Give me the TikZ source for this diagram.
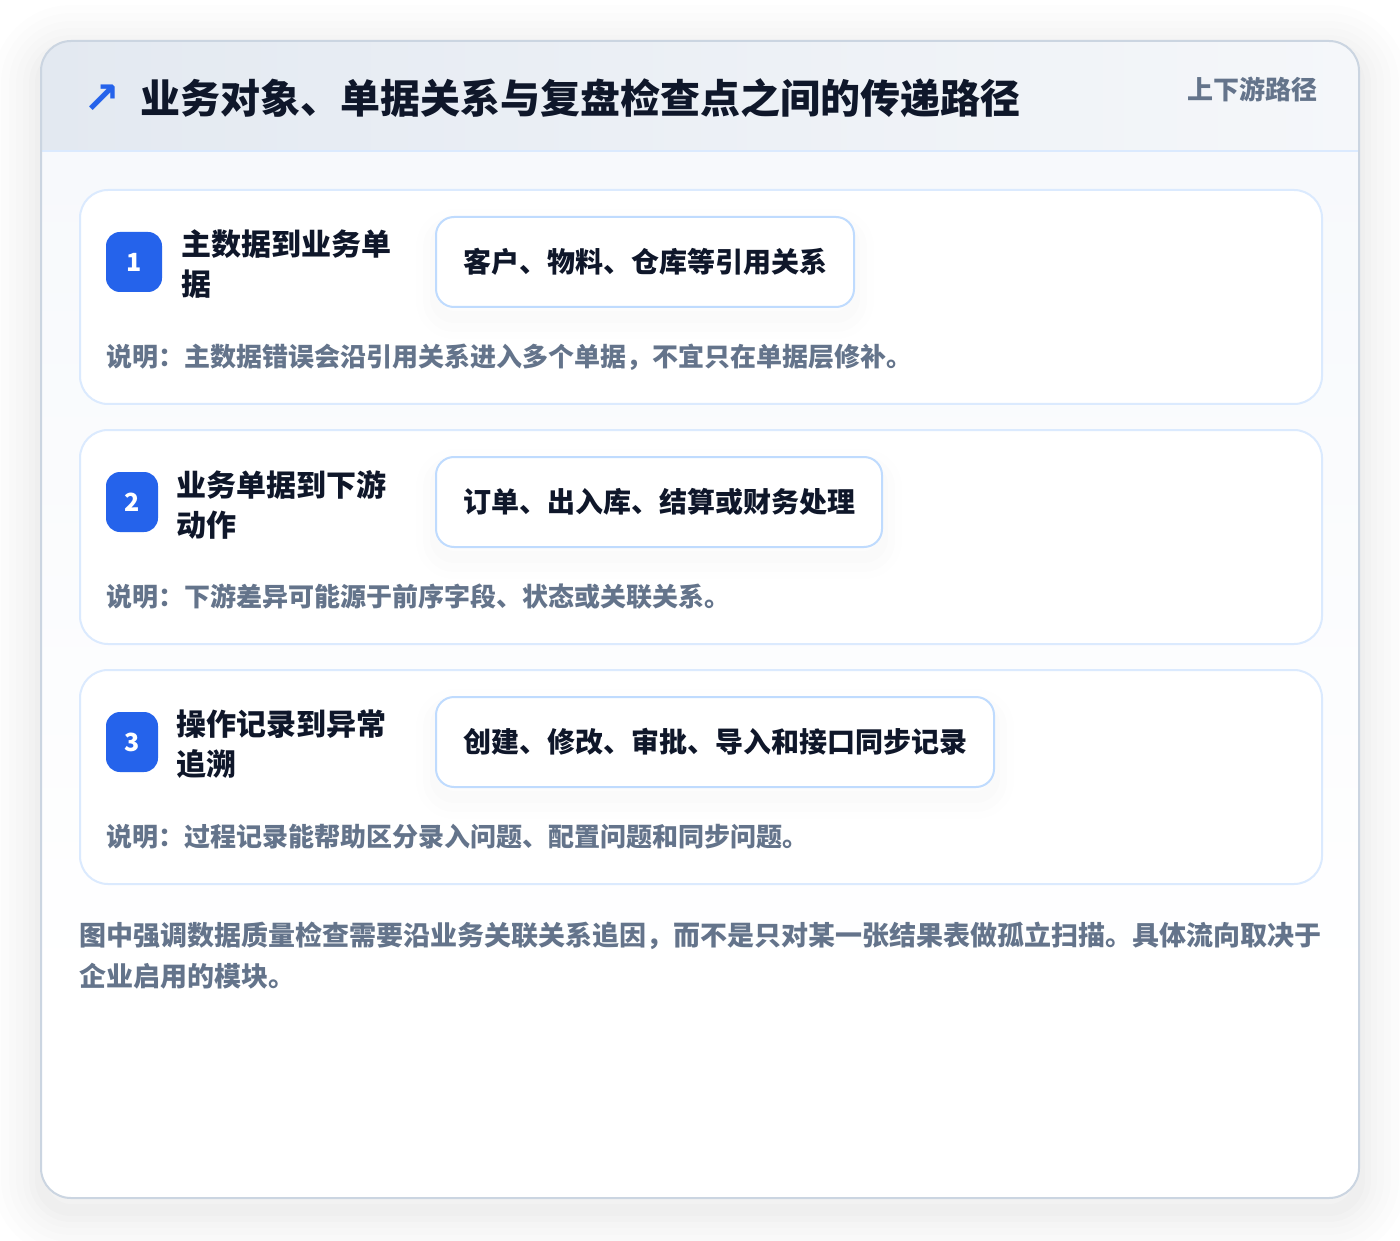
\documentclass[tikz,border=0pt]{standalone}
\usepackage{fontspec}
\setmainfont{Noto Sans CJK SC}
\newfontfamily\symfont{DejaVu Sans}
\definecolor{titleink}{HTML}{0F172A}
\definecolor{muted}{HTML}{64748B}
\definecolor{badgeblue}{HTML}{2563EB}
\definecolor{pillline}{HTML}{BFDBFE}
\definecolor{cardline}{HTML}{DBEAFE}
\definecolor{outerline}{HTML}{CBD5E1}
\definecolor{headL}{HTML}{E3E9F1}
\definecolor{headR}{HTML}{F5F7FA}
\definecolor{bodyT}{HTML}{F7F9FC}
\begin{document}
\begin{tikzpicture}[x=0.5pt,y=-0.5pt,
  cardbox/.style={draw=cardline, line width=1pt, fill=white, rounded corners=14pt,
    minimum width=621pt, minimum height=107pt, anchor=north west, inner sep=0pt},
  badge/.style={fill=badgeblue, rounded corners=7pt, text=white,
    font=\bfseries\fontsize{12.5}{13}\selectfont, minimum height=30pt, inner sep=0pt},
  ctitle/.style={anchor=west, align=left, inner sep=0pt, text=titleink,
    font=\bfseries\fontsize{15}{20}\selectfont},
  pill/.style={anchor=west, draw=pillline, line width=1pt, fill=white, rounded corners=9pt,
    minimum height=45pt, inner xsep=13.5pt, inner ysep=0pt, text=titleink,
    font=\bfseries\fontsize{14}{16}\selectfont,
    preaction={draw=black, draw opacity=0.005, line width=20pt, line join=round, transform canvas={yshift=-6pt}},
    preaction={draw=black, draw opacity=0.006, line width=13pt, line join=round, transform canvas={yshift=-6pt}},
    preaction={draw=black, draw opacity=0.008, line width=6pt, line join=round, transform canvas={yshift=-5pt}}},
  desc/.style={anchor=west, inner sep=0pt, text=muted,
    font=\bfseries\fontsize{13}{16}\selectfont},
]
\useasboundingbox (0,0) rectangle (1400,1240);
\fill[white] (0,0) rectangle (1400,1240);
% outer shadow
\begin{scope}[transform canvas={yshift=-6pt}]
\foreach \w/\o in {48/0.006, 40/0.006, 32/0.007, 25/0.008, 18/0.009, 12/0.010, 6/0.012}{
  \draw[black, draw opacity=\o, line width=\w pt, line join=round, rounded corners=15pt] (41,41) rectangle (1359,1198);
}
\end{scope}
% card body
\fill[white, rounded corners=15pt] (41,41) rectangle (1359,1198);
\begin{scope}
\clip[rounded corners=15pt] (41,41) rectangle (1359,1198);
\shade[top color=bodyT, bottom color=white] (41,151) rectangle (1359,1000);
\shade[left color=headL, right color=headR] (41,41) rectangle (1359,151);
\draw[cardline, line width=1pt] (41,151) -- (1359,151);
\end{scope}
\draw[outerline, line width=1pt, rounded corners=15pt] (41,41) rectangle (1359,1198);

% header
\node[text=badgeblue, inner sep=0pt, font=\symfont\bfseries\fontsize{22}{22}\selectfont] (icon) at (102,99) {↗};
\node[anchor=west, inner sep=0pt, text=titleink, font=\bfseries\fontsize{20}{24}\selectfont] (title) at (140,98) {业务对象、单据关系与复盘检查点之间的传递路径};
\node[anchor=east, inner sep=0pt, text=muted, font=\bfseries\fontsize{13}{16}\selectfont] (sub) at (1318,89) {上下游路径};

% card 1
\node[cardbox] (card1) at (79,189) {};
\node[badge, minimum width=28pt] (b1) at (134,262) {1};
\node[ctitle] (t1) at (181,264.5) {主数据到业务单\\据};
\node[pill] (p1) at (435,262) {客户、物料、仓库等引用关系};
\node[desc] (d1) at (106,357) {说明：主数据错误会沿引用关系进入多个单据，不宜只在单据层修补。};

% card 2
\node[cardbox] (card2) at (79,429) {};
\node[badge, minimum width=26pt] (b2) at (132,502) {2};
\node[ctitle] (t2) at (176,504.5) {业务单据到下游\\动作};
\node[pill] (p2) at (435,502) {订单、出入库、结算或财务处理};
\node[desc] (d2) at (106,597) {说明：下游差异可能源于前序字段、状态或关联关系。};

% card 3
\node[cardbox] (card3) at (79,669) {};
\node[badge, minimum width=26pt] (b3) at (132,742) {3};
\node[ctitle] (t3) at (176,744.5) {操作记录到异常\\追溯};
\node[pill] (p3) at (435,742) {创建、修改、审批、导入和接口同步记录};
\node[desc] (d3) at (106,837) {说明：过程记录能帮助区分录入问题、配置问题和同步问题。};

% footer
\node[anchor=west, align=left, inner sep=0pt, text=muted, font=\bfseries\fontsize{13.5}{20.5}\selectfont] (foot) at (79,955.5) {图中强调数据质量检查需要沿业务关联关系追因，而不是只对某一张结果表做孤立扫描。具体流向取决于\\企业启用的模块。};
\end{tikzpicture}
\end{document}
